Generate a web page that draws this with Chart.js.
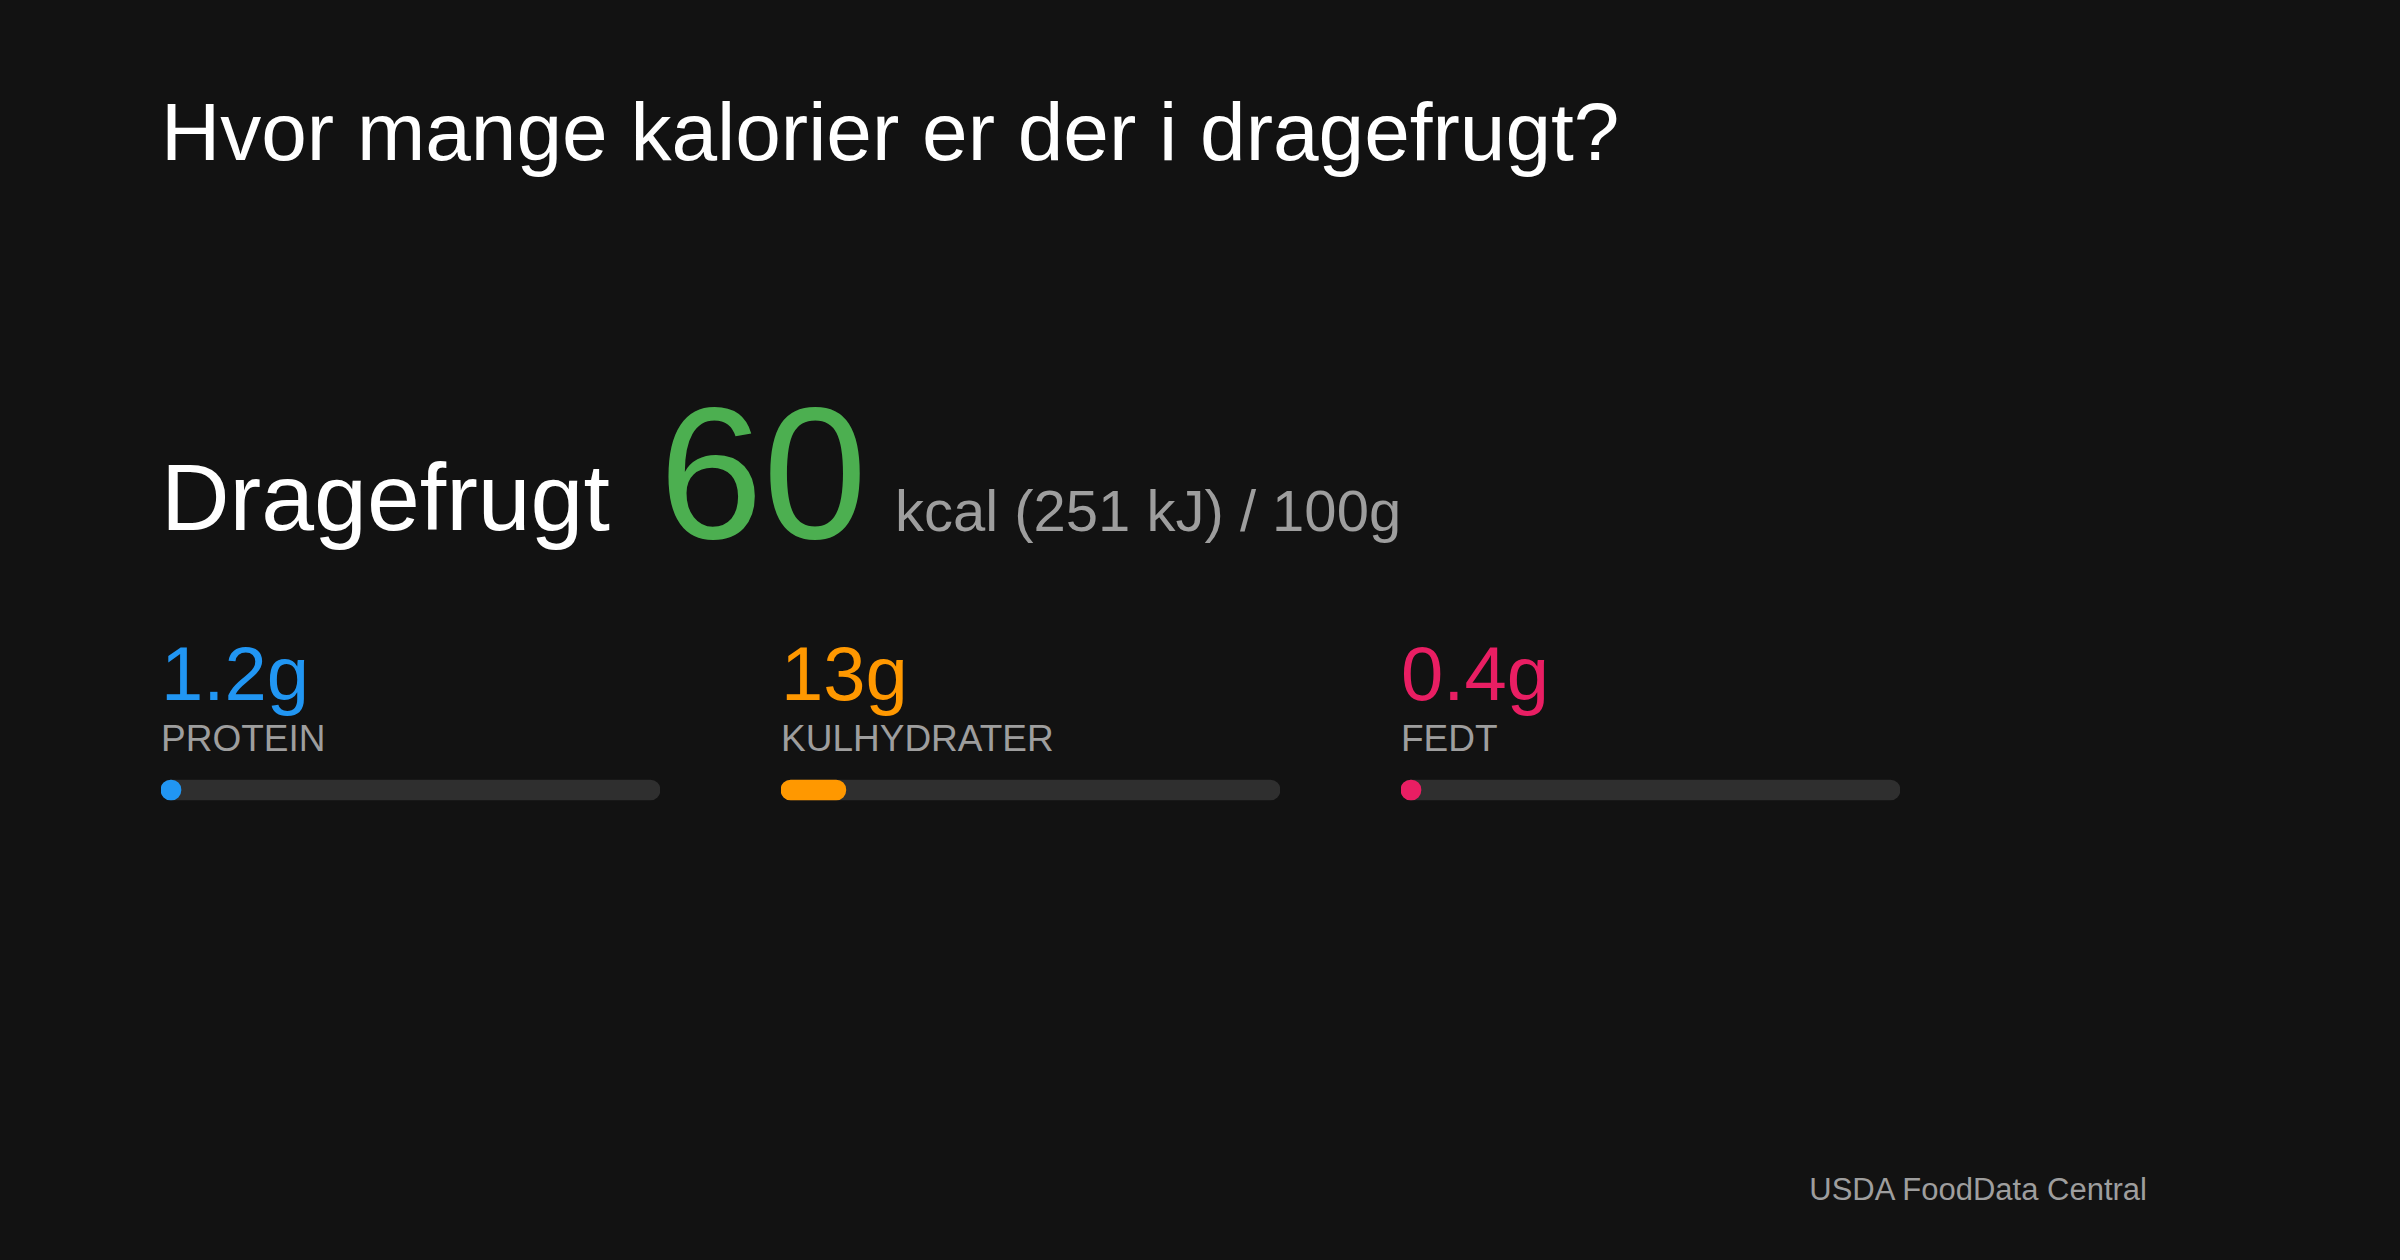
<!DOCTYPE html>
<html><head><meta charset="utf-8">
<script src="https://cdn.jsdelivr.net/npm/chart.js@4"></script>
<style>
html,body{margin:0;padding:0;background:#121212;width:2400px;height:1260px;overflow:hidden;font-family:"Liberation Sans",Arial,sans-serif}
.t{position:absolute;line-height:1;white-space:nowrap}
.bar{position:absolute;width:499px;height:30px}
</style></head><body>
<div class="t" style="left:161px;top:91px;font-size:82px;color:#fff">Hvor mange kalorier er der i dragefrugt?</div>
<div class="t" style="left:161px;top:450px;font-size:95px;color:#fff">Dragefrugt</div>
<div class="t" style="left:659px;top:380px;font-size:187px;color:#4caf50" id="kcal"></div>
<div class="t" style="left:895px;top:482px;font-size:58px;color:#9e9e9e" id="sub"></div>
<div id="cols"></div>
<div class="t" style="right:253px;top:1174px;font-size:31px;color:#9e9e9e">USDA FoodData Central</div>
<script>
const kcal = 60;
const kj = 251;
const nutrientNames = ["PROTEIN", "KULHYDRATER", "FEDT"];
const nutrientValues = [1.2, 13, 0.4];
const nutrientColors = ["#2196f3", "#ff9800", "#e91e63"];
const scaleMax = 100;

document.getElementById('kcal').textContent = kcal;
document.getElementById('sub').textContent = `kcal (${kj} kJ) / 100g`;
const cols = document.getElementById('cols');
nutrientNames.forEach((name, i) => {
  const x = 161 + 620 * i;
  cols.insertAdjacentHTML('beforeend',
    `<div class="t" style="left:${x}px;top:636px;font-size:76px;color:${nutrientColors[i]}">${nutrientValues[i]}g</div>
     <div class="t" style="left:${x}px;top:720px;font-size:37px;color:#9e9e9e">${name}</div>
     <div class="bar" style="left:${x}px;top:775px"><canvas id="c${i}"></canvas></div>`);
  new Chart(document.getElementById('c' + i), {
    type: 'bar',
    data: { labels: [name], datasets: [
      { data: [nutrientValues[i]], backgroundColor: nutrientColors[i], borderRadius: 10, borderSkipped: false, barThickness: 20, grouped: false, minBarLength: 20, order: 0 },
      { data: [scaleMax], backgroundColor: '#2f2f2f', borderRadius: 10, borderSkipped: false, barThickness: 20, grouped: false, order: 1 }
    ]},
    options: {
      indexAxis: 'y', responsive: true, maintainAspectRatio: false, animation: false,
      layout: { padding: 0 },
      plugins: { legend: { display: false }, tooltip: { enabled: false } },
      scales: { x: { display: false, min: 0, max: scaleMax }, y: { display: false } }
    }
  });
});
</script>
</body></html>
